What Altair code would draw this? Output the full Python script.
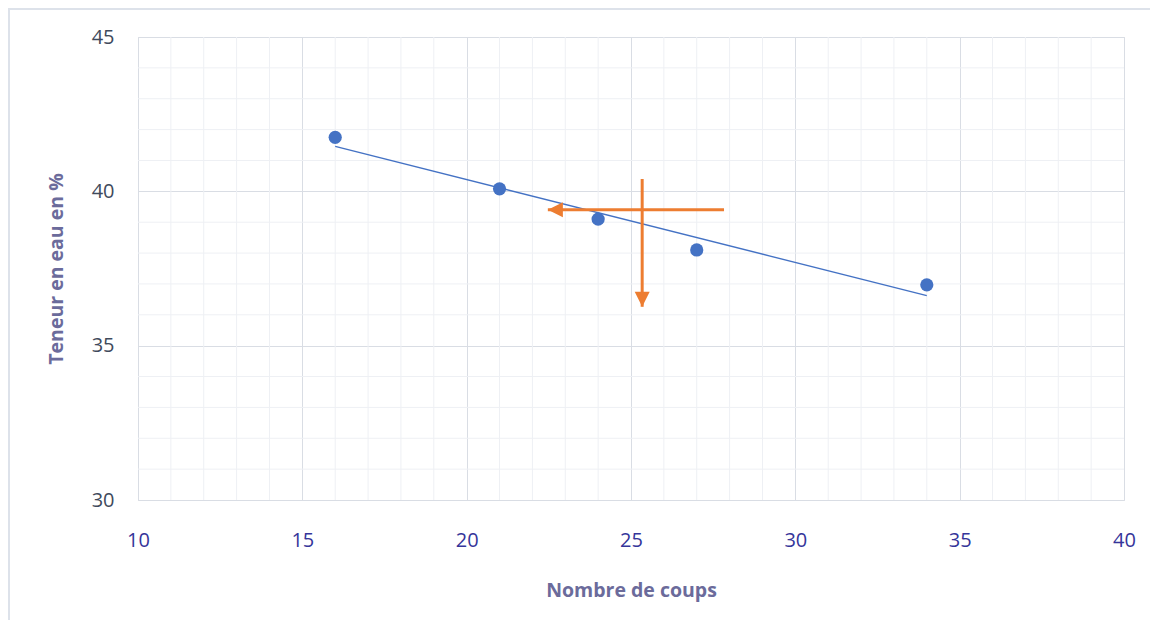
import altair as alt
import pandas as pd

# Data
coups = [16, 21, 24, 27, 34]
teneur = [41.75, 40.08, 39.10, 38.10, 36.97]

# Orange annotation arrows (horizontal: from x_start to tip at x_tip, at y_h;
# vertical: at x_v, from y_start down to tip y_tip)
h_arrow_x = [27.83]
h_arrow_tip = [22.47]
h_arrow_y = [39.40]
v_arrow_x = [25.34]
v_arrow_top = [40.40]
v_arrow_tip = [36.26]

x_major = [10, 15, 20, 25, 30, 35, 40]
y_major = [30, 35, 40, 45]
x_minor = [v for v in range(10, 41) if v % 5 != 0]
y_minor = [v for v in range(30, 46) if v % 5 != 0]

df = pd.DataFrame({"coups": coups, "teneur": teneur})
hdf = pd.DataFrame({"x": h_arrow_x, "x2": h_arrow_tip, "y": h_arrow_y})
vdf = pd.DataFrame({"x": v_arrow_x, "y": v_arrow_top, "y2": v_arrow_tip})
xminor_df = pd.DataFrame({"v": x_minor})
yminor_df = pd.DataFrame({"v": y_minor})

BLUE = "#4472c4"
ORANGE = "#ed7d31"
FONT = "Open Sans"
MAJOR = "#d9dde4"
MINOR = "#eef0f4"

xscale = alt.Scale(domain=[10, 40], nice=False, zero=False)
yscale = alt.Scale(domain=[30, 45], nice=False, zero=False)

x_axis = alt.Axis(
    values=x_major,
    labelOverlap=False,
    labelFlush=False,
    ticks=False,
    domain=False,
    gridColor=MAJOR,
    gridWidth=1,
    labelFont=FONT,
    labelFontSize=20,
    labelColor="#35359a",
    labelPadding=30,
    title="Nombre de coups",
    titleFont=FONT,
    titleFontSize=19.5,
    titleFontWeight="bold",
    titleColor="#6b6b9b",
    titlePadding=31,
)
y_axis = alt.Axis(
    values=y_major,
    labelOverlap=False,
    labelFlush=False,
    ticks=False,
    domain=False,
    gridColor=MAJOR,
    gridWidth=1,
    labelFont=FONT,
    labelFontSize=20,
    labelColor="#404a5c",
    labelPadding=24,
    title="Teneur en eau en %",
    titleFont=FONT,
    titleFontSize=19.5,
    titleFontWeight="bold",
    titleColor="#6b6b9b",
    titlePadding=25,
)

x_minor_grid = alt.Chart(xminor_df).mark_rule(color=MINOR, strokeWidth=1).encode(
    x=alt.X("v:Q", scale=xscale, axis=x_axis)
)
y_minor_grid = alt.Chart(yminor_df).mark_rule(color=MINOR, strokeWidth=1).encode(
    y=alt.Y("v:Q", scale=yscale, axis=y_axis)
)

base = alt.Chart(df)

points = base.mark_circle(size=175, color=BLUE, opacity=1).encode(
    x=alt.X("coups:Q", scale=xscale, axis=x_axis),
    y=alt.Y("teneur:Q", scale=yscale, axis=y_axis),
)

trend = base.transform_regression("coups", "teneur").mark_line(
    color=BLUE, strokeWidth=1.3
).encode(
    x=alt.X("coups:Q", scale=xscale),
    y=alt.Y("teneur:Q", scale=yscale),
)

h_shaft = alt.Chart(hdf).mark_rule(color=ORANGE, strokeWidth=3).encode(
    x=alt.X("x:Q", scale=xscale), x2="x2:Q", y=alt.Y("y:Q", scale=yscale)
)
h_head = alt.Chart(hdf).mark_point(
    shape="M0,0 L1,-0.5 L1,0.5 Z", size=900, filled=True, color=ORANGE, opacity=1
).encode(x=alt.X("x2:Q", scale=xscale), y=alt.Y("y:Q", scale=yscale))

v_shaft = alt.Chart(vdf).mark_rule(color=ORANGE, strokeWidth=3).encode(
    x=alt.X("x:Q", scale=xscale), y=alt.Y("y:Q", scale=yscale), y2="y2:Q"
)
v_head = alt.Chart(vdf).mark_point(
    shape="M0,0 L-0.5,-1 L0.5,-1 Z", size=900, filled=True, color=ORANGE, opacity=1
).encode(x=alt.X("x:Q", scale=xscale), y=alt.Y("y2:Q", scale=yscale))

# Outer frame (light border around the chart area)
frame_left = alt.Chart(df).mark_rule(color="#dde2ea", strokeWidth=2).encode(
    x=alt.value(-129), y=alt.value(-28), y2=alt.value(583)
)
frame_top = alt.Chart(df).mark_rule(color="#dde2ea", strokeWidth=2).encode(
    x=alt.value(-130), x2=alt.value(1012), y=alt.value(-28)
)

chart = alt.layer(
    x_minor_grid, y_minor_grid, trend, points, h_shaft, h_head, v_shaft, v_head,
    frame_left, frame_top
).properties(
    width=986,
    height=463,
    autosize=alt.AutoSizeParams(type="none"),
    padding={"left": 130, "top": 29, "right": 26, "bottom": 120},
).configure_view(stroke=None).configure(background="white")

chart.save("out.html", embed_options={"renderer": "svg", "actions": False})
